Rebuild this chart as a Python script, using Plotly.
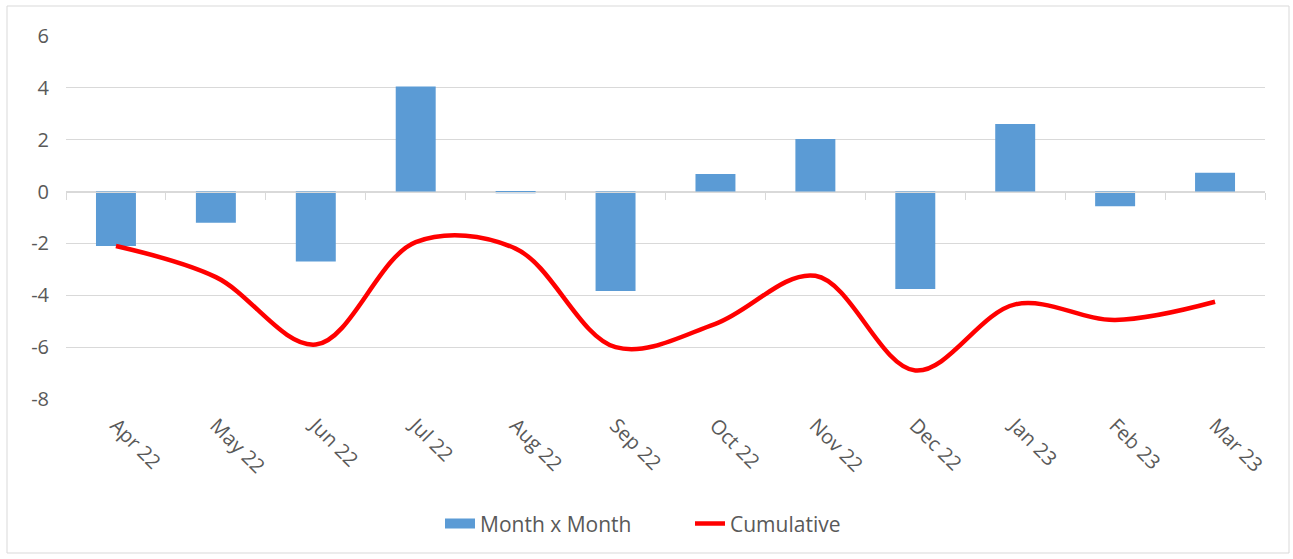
import plotly.graph_objects as go

months = ["Apr 22", "May 22", "Jun 22", "Jul 22", "Aug 22", "Sep 22",
          "Oct 22", "Nov 22", "Dec 22", "Jan 23", "Feb 23", "Mar 23"]
month_x_month = [-2.1, -1.2, -2.7, 4.05, -0.06, -3.83, 0.68, 2.03, -3.76, 2.61, -0.57, 0.73]
cumulative = [-2.1, -3.3, -5.9, -1.95, -2.2, -6.0, -5.1, -3.25, -6.9, -4.35, -4.95, -4.25]
y_ticks = [-8, -6, -4, -2, 0, 2, 4, 6]
y_tick_text = ["-8", "-6", "-4", "-2", "0", "2", "4", "6"]

pos = list(range(len(months)))
bounds = [i - 0.5 for i in range(len(months) + 1)]

FONT = "Open Sans"
GRAY = "#595959"
BLUE = "#5B9BD5"
FS = 20

fig = go.Figure()
fig.add_trace(go.Bar(x=pos, y=month_x_month, name="Month x Month", showlegend=False,
                     marker=dict(color=BLUE, line=dict(width=0)), width=0.4))
# legend proxy for the bar series (wide rectangular swatch)
fig.add_trace(go.Scatter(x=[None], y=[None], name="Month x Month", mode="lines",
                         line=dict(color=BLUE, width=14), hoverinfo="skip"))
fig.add_trace(go.Scatter(x=pos, y=cumulative, name="Cumulative", mode="lines",
                         line=dict(color="#FF0000", width=4.5, shape="spline", smoothing=1.0)))
fig.add_trace(go.Scatter(x=[], y=[], xaxis="x2", showlegend=False, hoverinfo="skip"))

y_min, y_max = -8, 6
fig.update_layout(
    width=1293, height=559,
    margin=dict(l=66, r=28, t=36, b=160),
    paper_bgcolor="white", plot_bgcolor="white",
    font=dict(family=FONT, size=FS, color=GRAY),
    xaxis=dict(range=[-0.5, 11.5], tickvals=pos, ticktext=months, tickangle=45,
               showgrid=False, zeroline=False, showline=False, ticks="",
               ticklabelstandoff=10, tickfont=dict(size=FS, color=GRAY, family=FONT)),
    xaxis2=dict(range=[-0.5, 11.5], overlaying="x", anchor="free",
                position=(0 - y_min) / (y_max - y_min),
                tickvals=bounds, ticks="outside", ticklen=7, tickcolor="#D9D9D9", tickwidth=1,
                showticklabels=False, showline=True, linecolor="#D9D9D9", linewidth=1,
                showgrid=False, zeroline=False),
    yaxis=dict(range=[y_min, y_max], tickvals=y_ticks, ticktext=y_tick_text,
               showgrid=True, gridcolor="#D9D9D9",
               gridwidth=1, zeroline=False, showline=False, ticks="",
               ticklabelstandoff=16, tickfont=dict(size=FS, color=GRAY, family=FONT)),
    legend=dict(orientation="h", x=(440 - 66) / 1199, xanchor="left", y=-0.344, yanchor="middle",
                font=dict(size=21, color=GRAY, family=FONT),
                entrywidth=205, entrywidthmode="pixels",
                traceorder="normal"),
    bargap=0.6,
    shapes=[dict(type="rect", xref="paper", yref="paper",
                 x0=-59 / 1199, x1=1 + 24 / 1199, y0=-154 / 363, y1=1 + 30 / 363,
                 line=dict(color="#D9D9D9", width=1), layer="below")],
)

fig.write_html("out.html")
